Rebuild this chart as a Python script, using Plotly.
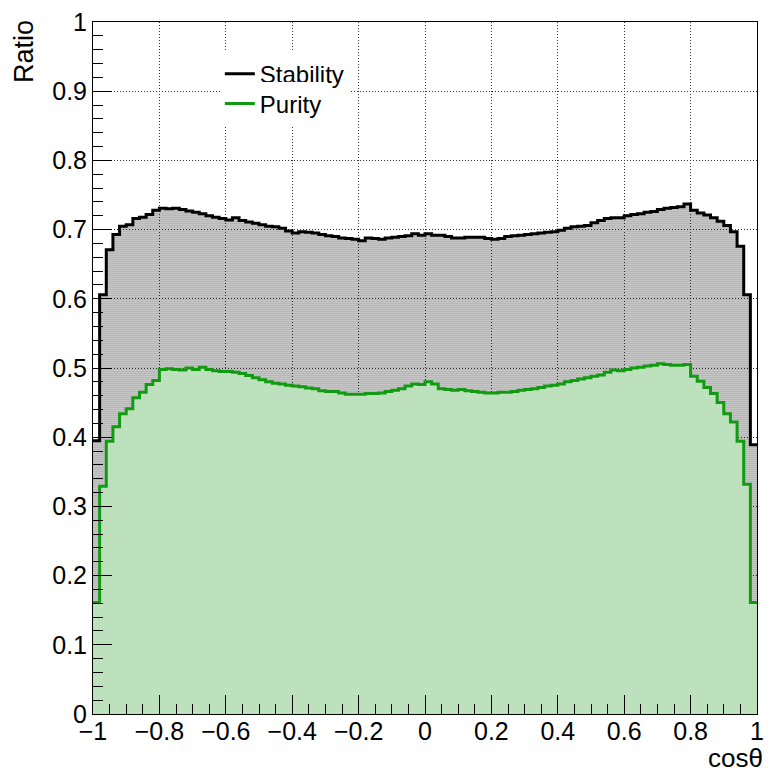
import numpy as np
import plotly.graph_objects as go

# 100 uniform bins in cos(theta) from -1 to 1
bin_edges = np.linspace(-1.0, 1.0, 101)

stability = [
    0.395, 0.606, 0.671, 0.693, 0.705, 0.707, 0.716, 0.718, 0.722, 0.728,
    0.731, 0.730, 0.731, 0.729, 0.727, 0.725, 0.723, 0.720, 0.718, 0.716,
    0.714, 0.717, 0.713, 0.711, 0.709, 0.707, 0.705, 0.704, 0.702, 0.698,
    0.695, 0.697, 0.696, 0.695, 0.693, 0.691, 0.690, 0.688, 0.687, 0.686,
    0.684, 0.688, 0.687, 0.686, 0.688, 0.689, 0.690, 0.691, 0.694, 0.692,
    0.694, 0.692, 0.692, 0.690, 0.688, 0.688, 0.689, 0.689, 0.689, 0.687,
    0.686, 0.687, 0.690, 0.691, 0.692, 0.693, 0.694, 0.695, 0.696, 0.697,
    0.699, 0.702, 0.704, 0.705, 0.706, 0.710, 0.713, 0.716, 0.717, 0.717,
    0.720, 0.722, 0.723, 0.725, 0.726, 0.729, 0.731, 0.732, 0.733, 0.737,
    0.728, 0.724, 0.721, 0.717, 0.712, 0.706, 0.697, 0.676, 0.606, 0.389,
]

purity = [
    0.161, 0.329, 0.394, 0.415, 0.434, 0.441, 0.457, 0.465, 0.476, 0.482,
    0.498, 0.499, 0.498, 0.497, 0.500, 0.498, 0.501, 0.498, 0.496, 0.495,
    0.495, 0.494, 0.492, 0.489, 0.486, 0.483, 0.480, 0.478, 0.477, 0.475,
    0.474, 0.473, 0.471, 0.470, 0.467, 0.466, 0.466, 0.464, 0.462, 0.462,
    0.462, 0.463, 0.463, 0.464, 0.466, 0.468, 0.470, 0.474, 0.477, 0.476,
    0.480, 0.477, 0.470, 0.469, 0.468, 0.469, 0.467, 0.466, 0.465, 0.464,
    0.464, 0.465, 0.465, 0.466, 0.468, 0.469, 0.470, 0.472, 0.474, 0.475,
    0.477, 0.480, 0.482, 0.484, 0.486, 0.488, 0.490, 0.494, 0.497, 0.496,
    0.498, 0.500, 0.501, 0.503, 0.504, 0.506, 0.505, 0.504, 0.504, 0.505,
    0.488, 0.481, 0.472, 0.463, 0.450, 0.434, 0.422, 0.394, 0.332, 0.161,
]

x_ticks = [-1.0, -0.8, -0.6, -0.4, -0.2, 0.0, 0.2, 0.4, 0.6, 0.8, 1.0]
y_ticks = [0.0, 0.1, 0.2, 0.3, 0.4, 0.5, 0.6, 0.7, 0.8, 0.9, 1.0]

FONT = "Liberation Sans"
GREEN = "#129a12"


def step_xy(values):
    """Histogram outline: one horizontal step per bin, closed at the last edge."""
    return list(bin_edges), list(values) + [values[-1]]


fig = go.Figure()

sx, sy = step_xy(stability)
fig.add_trace(go.Scatter(
    x=sx, y=sy, mode="lines", name="Stability", showlegend=False,
    line=dict(color="black", width=3, shape="hv"),
    fill="tozeroy",
    fillpattern=dict(shape=".", fgcolor="black", bgcolor="rgba(0,0,0,0)",
                     size=2, solidity=0.57),
))

px, py = step_xy(purity)
fig.add_trace(go.Scatter(
    x=px, y=py, mode="lines", name="Purity", showlegend=False,
    line=dict(color=GREEN, width=3, shape="hv"),
    fill="tozeroy", fillcolor="#cbe8cb",
    fillpattern=dict(shape=".", fgcolor="#46b046", fillmode="overlay",
                     size=2, solidity=0.3),
))

# legend entries: line samples only, each in its own legend box
fig.add_trace(go.Scatter(
    x=[None], y=[None], mode="lines", name="Stability",
    line=dict(color="black", width=3), legend="legend",
))
fig.add_trace(go.Scatter(
    x=[None], y=[None], mode="lines", name="Purity",
    line=dict(color=GREEN, width=3), legend="legend2",
))

axis_common = dict(
    showline=True, linecolor="black", linewidth=1, mirror=True,
    ticks="inside", ticklen=19, tickwidth=1, tickcolor="black",
    showgrid=True, gridcolor="#333333", griddash="1px,2px", gridwidth=1,
    zeroline=False,
    tickfont=dict(family=FONT, size=25, color="black"),
)

fig.update_xaxes(
    range=[-1, 1], tickvals=x_ticks, ticklabelstandoff=-5,
    minor=dict(ticks="inside", ticklen=10, dtick=0.05, tickcolor="black",
               showgrid=False),
    **axis_common,
)
fig.update_yaxes(
    range=[0, 1], tickvals=y_ticks,
    minor=dict(ticks="inside", ticklen=10, dtick=0.02, tickcolor="black",
               showgrid=False),
    **axis_common,
)

fig.add_annotation(
    text="Ratio", textangle=-90, showarrow=False,
    xref="paper", yref="paper", x=-0.104, y=0.958,
    xanchor="center", yanchor="middle",
    font=dict(family=FONT, size=27, color="black"),
)
fig.add_annotation(
    text="cos\u03b8", showarrow=False,
    xref="paper", yref="paper", x=1.012, y=-0.063,
    xanchor="right", yanchor="middle",
    font=dict(family=FONT, size=26, color="black"),
)

legend_common = dict(
    xanchor="left", yanchor="top",
    bgcolor="white", borderwidth=0,
    font=dict(family=FONT, size=24, color="black"),
    itemwidth=30,
)

fig.update_layout(
    width=772, height=775, autosize=False,
    margin=dict(l=93, r=8, t=18, b=61),
    paper_bgcolor="white", plot_bgcolor="white",
    legend=dict(x=0.191, y=0.957, **legend_common),
    legend2=dict(x=0.191, y=0.914, **legend_common),
    showlegend=True,
)

fig.write_html("out.html")
